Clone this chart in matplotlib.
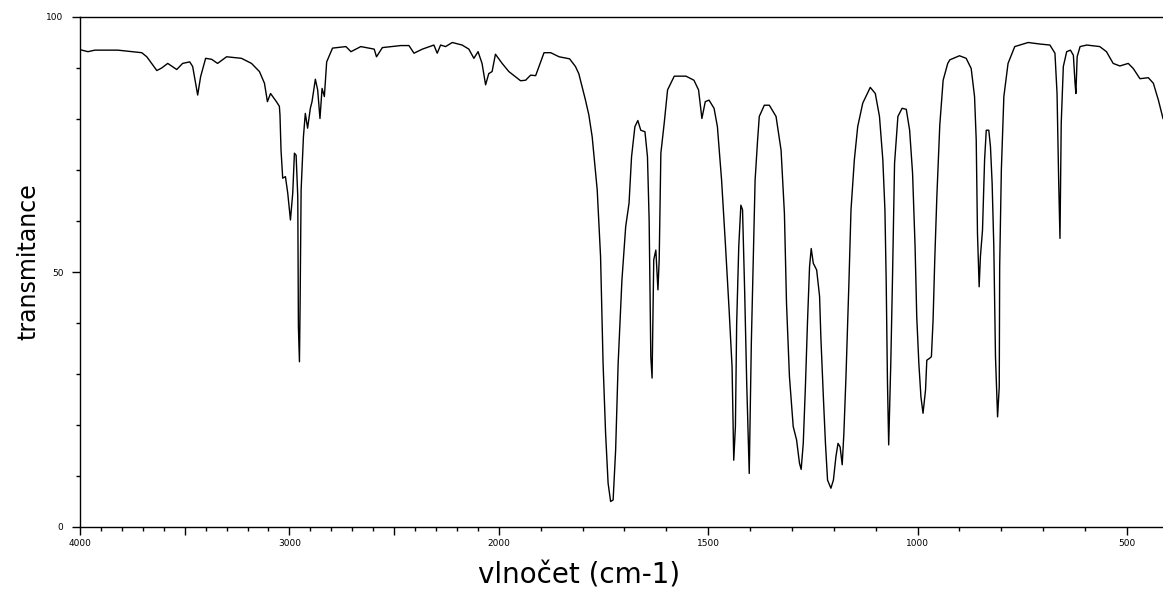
import numpy as np
import matplotlib
matplotlib.use("Agg")
import matplotlib.pyplot as plt

# IR spektrum (vlnocet cm-1, transmitance %)
wavenumber = [
    4000, 3962, 3929, 3819, 3705, 3681, 3633, 3610, 3581, 3538, 3510, 3476,
    3462, 3438, 3424, 3400, 3371, 3343, 3300, 3229, 3181, 3143, 3119, 3105,
    3090, 3062, 3048, 3045, 3040, 3032, 3019, 3008, 2995, 2984, 2976, 2968,
    2960, 2957, 2952, 2949, 2944, 2933, 2924, 2913, 2900, 2892, 2876, 2865,
    2854, 2844, 2833, 2822, 2794, 2730, 2706, 2659, 2619, 2595, 2584, 2556,
    2468, 2429, 2405, 2365, 2310, 2294, 2278, 2254, 2222, 2175, 2143, 2119,
    2099, 2080, 2063, 2048, 2032, 2016, 1992, 1976, 1948, 1936, 1924, 1912,
    1892, 1876, 1856, 1831, 1817, 1809, 1801, 1793, 1785, 1777, 1765, 1757,
    1751, 1745, 1739, 1733, 1727, 1721, 1715, 1706, 1697, 1689, 1683, 1675,
    1668, 1661, 1651, 1645, 1641, 1637, 1634, 1630, 1625, 1620, 1617, 1613,
    1605, 1597, 1581, 1553, 1534, 1523, 1515, 1507, 1498, 1486, 1478, 1468,
    1459, 1450, 1443, 1439, 1435, 1432, 1427, 1422, 1418, 1413, 1408, 1402,
    1397, 1392, 1388, 1382, 1378, 1366, 1354, 1338, 1326, 1318, 1313, 1306,
    1297, 1289, 1282, 1278, 1273, 1268, 1263, 1258, 1254, 1249, 1241, 1234,
    1231, 1225, 1220, 1215, 1207, 1201, 1195, 1190, 1185, 1180, 1176, 1171,
    1164, 1159, 1151, 1143, 1131, 1113, 1101, 1091, 1083, 1078, 1075, 1072,
    1069, 1064, 1060, 1055, 1047, 1037, 1027, 1019, 1012, 1006, 1002, 997,
    992, 987, 981, 978, 971, 967, 963, 959, 954, 947, 939, 928, 923, 900,
    884, 872, 864, 860, 857, 853, 850, 845, 840, 836, 830, 826, 822, 818,
    814, 809, 805, 804, 800, 794, 784, 768, 736, 708, 684, 672, 667, 663,
    660, 657, 652, 644, 635, 628, 624, 622, 619, 612, 596, 565, 549, 533,
    517, 497, 485, 469, 449, 437, 425, 414,
]
transmittance = [
    93.6, 93.2, 93.5, 93.5, 93.0, 92.2, 89.5, 90.0, 90.9, 89.7, 90.9, 91.2,
    90.3, 84.7, 88.3, 91.9, 91.7, 90.9, 92.2, 91.9, 90.9, 89.3, 87.0, 83.4,
    85.0, 83.4, 82.5, 80.8, 73.9, 68.4, 68.7, 65.5, 60.2, 65.5, 73.3, 72.9,
    64.8, 39.3, 32.4, 43.2, 66.1, 76.5, 81.1, 78.2, 82.1, 83.4, 87.8, 85.7,
    80.1, 86.0, 84.4, 91.2, 93.9, 94.2, 93.2, 94.2, 93.9, 93.7, 92.2, 94.0,
    94.4, 94.4, 92.9, 93.7, 94.5, 92.9, 94.5, 94.2, 95.0, 94.5, 93.7, 91.9,
    93.2, 90.9, 86.7, 88.9, 89.3, 92.7, 90.9, 89.3, 87.5, 87.6, 88.6, 88.5,
    93.0, 93.0, 92.2, 91.8, 90.3, 88.9, 86.3, 83.7, 80.8, 76.5, 66.1, 53.0,
    32.1, 18.4, 8.6, 5.0, 5.3, 15.1, 32.1, 48.4, 58.9, 63.5, 72.6, 78.5,
    79.7, 77.8, 77.5, 72.6, 60.2, 33.4, 29.2, 52.4, 54.3, 46.5, 52.4, 73.3,
    79.2, 85.7, 88.4, 88.4, 87.6, 85.7, 80.1, 83.4, 83.7, 82.1, 78.5, 68.0,
    55.6, 42.5, 31.4, 13.1, 19.7, 39.9, 55.0, 63.1, 62.2, 46.5, 28.2, 10.5,
    36.0, 54.3, 68.0, 75.9, 80.5, 82.7, 82.7, 80.5, 73.9, 61.5, 43.9, 29.5,
    19.7, 17.1, 12.5, 11.3, 16.4, 27.2, 39.9, 51.0, 54.6, 51.7, 50.4, 45.2,
    37.3, 25.5, 16.4, 9.2, 7.6, 9.2, 13.8, 16.4, 15.7, 12.2, 18.4, 29.5,
    47.8, 62.2, 72.0, 78.5, 83.1, 86.2, 85.0, 80.5, 72.0, 62.2, 48.4, 28.8,
    16.1, 32.1, 48.4, 71.3, 80.5, 82.1, 81.9, 77.8, 69.4, 55.0, 41.2, 32.1,
    25.5, 22.3, 26.9, 32.7, 33.1, 33.4, 40.6, 52.4, 64.8, 78.8, 87.6, 90.9, 91.6, 92.4,
    91.9, 89.9, 84.4, 75.9, 57.6, 47.1, 53.0, 58.2, 72.0, 77.8, 77.8, 74.6, 67.4, 55.0,
    33.4, 21.6, 27.5, 51.0, 70.0, 84.4, 90.9, 94.2, 95.0, 94.7, 94.5, 92.9, 85.0, 67.4,
    56.6, 79.2, 90.3, 93.2, 93.5, 92.5, 87.0, 85.0, 92.2, 94.2, 94.5, 94.2, 93.2, 90.9,
    90.4, 90.9, 89.9, 87.9, 88.1, 87.0, 83.7, 80.1,
]

x_major = [4000, 3500, 3000, 2500, 2000, 1500, 1000, 500]
x_labels = ["4000", "", "3000", "", "2000", "1500", "1000", "500"]
y_major = [0, 50, 100]


# pod 2000 cm-1 je osa roztazena na dvojnasobek
def fwd(x):
    x = np.asarray(x, dtype=float)
    return np.where(x >= 2000, x, 2 * x - 2000)


def inv(u):
    u = np.asarray(u, dtype=float)
    return np.where(u >= 2000, u, (u + 2000) / 2)


fig = plt.figure(figsize=(11.63, 5.99), dpi=100)
ax = fig.add_axes([80 / 1163, 1 - 527 / 599, 1 - 80 / 1163, 510 / 599])

ax.plot(wavenumber, transmittance, color="black", linewidth=1.0)

ax.set_xscale("function", functions=(fwd, inv))

ax.set_xticks(x_major, x_labels)
ax.set_xticks(np.arange(500, 4001, 100), minor=True)
ax.set_yticks(y_major)
ax.set_yticks(np.arange(0, 101, 10), minor=True)

# limity az po tickach, jinak se osa roztahne
ax.set_xlim(4000, 414)
ax.set_ylim(0, 100)

ax.tick_params(which="major", direction="out", length=6, width=1.0,
               labelsize=6.5, color="black")
ax.tick_params(which="minor", direction="out", length=3, width=1.0)
ax.tick_params(axis="x", which="major", pad=3)
ax.tick_params(axis="y", which="major", pad=6)

ax.spines["right"].set_visible(False)
for s in ["left", "bottom", "top"]:
    ax.spines[s].set_linewidth(1.0)

ax.set_xlabel("vlnočet (cm-1)", fontsize=20)
ax.xaxis.set_label_coords(0.461, -0.068)
ax.set_ylabel("transmitance", fontsize=17)
ax.yaxis.set_label_coords(-0.037, 0.52)

fig.savefig("out.png", dpi=100)
